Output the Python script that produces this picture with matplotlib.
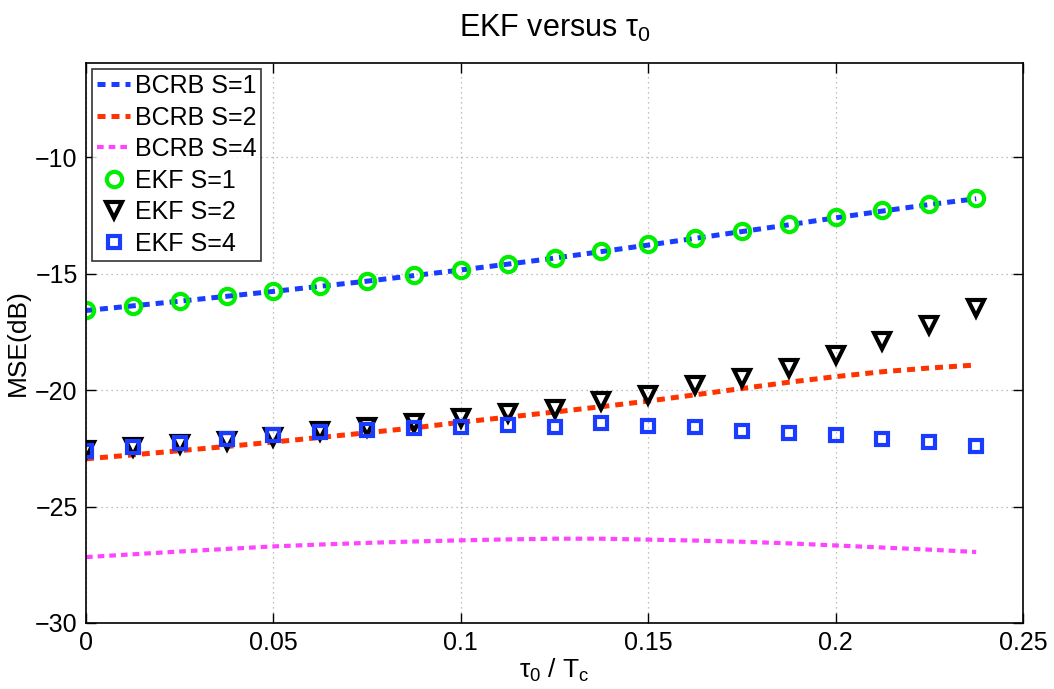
import numpy as np
import matplotlib
matplotlib.use('Agg')
import matplotlib.pyplot as plt

plt.rcParams['font.family'] = ['Liberation Sans', 'DejaVu Sans']
plt.rcParams['mathtext.fontset'] = 'custom'
plt.rcParams['mathtext.rm'] = 'Liberation Sans'
plt.rcParams['mathtext.it'] = 'Liberation Sans'
plt.rcParams['mathtext.bf'] = 'Liberation Sans:bold'

# Podatki (odčitani s slike)
tau = [0, 0.0125, 0.025, 0.0375, 0.05, 0.0625, 0.075, 0.0875, 0.1, 0.1125,
       0.125, 0.1375, 0.15, 0.1625, 0.175, 0.1875, 0.2, 0.2125, 0.225, 0.2375]

bcrb_s1 = [-16.58, -16.38, -16.18, -15.97, -15.76, -15.54, -15.32, -15.08, -14.84, -14.59,
           -14.33, -14.05, -13.77, -13.48, -13.19, -12.9, -12.6, -12.31, -12.03, -11.78]
bcrb_s2 = [-22.95, -22.78, -22.6, -22.42, -22.23, -22.03, -21.83, -21.62, -21.38, -21.16,
           -20.94, -20.71, -20.47, -20.2, -19.93, -19.66, -19.42, -19.21, -19.05, -18.92]
bcrb_s4 = [-27.17, -27.05, -26.93, -26.82, -26.71, -26.63, -26.56, -26.5, -26.45, -26.41,
           -26.38, -26.38, -26.42, -26.46, -26.51, -26.58, -26.67, -26.76, -26.85, -26.95]

ekf_s1 = [-16.55, -16.37, -16.18, -15.96, -15.75, -15.53, -15.31, -15.07, -14.83, -14.57,
          -14.31, -14.02, -13.74, -13.45, -13.16, -12.88, -12.57, -12.28, -12.01, -11.77]
ekf_s2 = [-22.57, -22.44, -22.33, -22.17, -22.0, -21.76, -21.6, -21.41, -21.19, -20.98,
          -20.83, -20.47, -20.19, -19.76, -19.5, -19.04, -18.5, -17.88, -17.19, -16.47]
ekf_s4 = [-22.62, -22.43, -22.25, -22.11, -21.93, -21.8, -21.71, -21.61, -21.58, -21.5,
          -21.58, -21.42, -21.56, -21.58, -21.74, -21.84, -21.91, -22.1, -22.24, -22.4]

xticks = [0, 0.05, 0.1, 0.15, 0.2, 0.25]
xticklabels = ['0', '0.05', '0.1', '0.15', '0.2', '0.25']
yticks = [-30, -25, -20, -15, -10]
yticklabels = ['\u221230', '\u221225', '\u221220', '\u221215', '\u221210']

fig = plt.figure(figsize=(10.54, 6.89), dpi=100)
ax = fig.add_axes([0.0816, 0.0958, 0.8890, 0.8128])

dash = (0, (1.6, 1.2))
ax.plot(tau, bcrb_s1, linestyle=dash, color='#1a3cff', linewidth=3.6, label='BCRB S=1')
ax.plot(tau, bcrb_s2, linestyle=dash, color='#ff3300', linewidth=3.6, label='BCRB S=2')
ax.plot(tau, bcrb_s4, linestyle=dash, color='#ff44ff', linewidth=3.0, label='BCRB S=4')
ax.plot(tau, ekf_s1, linestyle='none', marker='o', markersize=11, markerfacecolor='none',
        markeredgecolor='#00ee00', markeredgewidth=3, label='EKF S=1')
ax.plot(tau, ekf_s2, linestyle='none', marker='v', markersize=12, markerfacecolor='none',
        markeredgecolor='black', markeredgewidth=3, label='EKF S=2')
ax.plot(tau, ekf_s4, linestyle='none', marker='s', markersize=9, markerfacecolor='none',
        markeredgecolor='#1a3cff', markeredgewidth=3, label='EKF S=4')

ax.set_xlim(0, 0.25)
ax.set_ylim(-30, -5.95)
ax.set_xticks(xticks)
ax.set_xticklabels(xticklabels)
ax.set_yticks(yticks)
ax.set_yticklabels(yticklabels)
ax.tick_params(direction='in', length=7, width=1, top=True, right=True, labelsize=18, pad=6)
for s in ax.spines.values():
    s.set_linewidth(1.2)
ax.grid(True, linestyle=(0, (1, 3)), color='#aaaaaa', linewidth=0.9)

ax.set_title(r'EKF versus $\tau_0$', fontsize=22, pad=19)
ax.set_xlabel(r'$\tau_0$ / $T_c$', fontsize=19, labelpad=1)
ax.set_ylabel('MSE(dB)', fontsize=19, labelpad=4)

leg = ax.legend(loc='upper left', fontsize=18, frameon=True, fancybox=False,
                edgecolor='black', borderaxespad=0.25, handlelength=1.3,
                handletextpad=0.2, labelspacing=0.3, borderpad=0.2)
leg.get_frame().set_linewidth(1.2)

plt.savefig('out.png', dpi=100)
